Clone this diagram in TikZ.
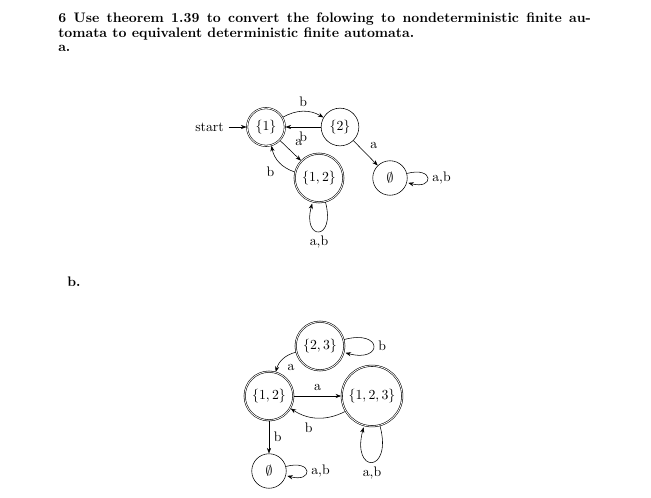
\documentclass[tikz,border=0pt]{standalone}
\usetikzlibrary{automata,arrows.meta}
\begin{document}
\begin{tikzpicture}[x=0.7246pt,y=-0.7246pt,
  >={Stealth[length=4pt,width=3pt]},
  auto,
  every state/.style={minimum size=2.5em},
  accepting/.style={accepting by double},
  titletext/.style={anchor=base west,inner sep=0pt,font=\bfseries},
  trans/.style={->}]
\useasboundingbox (0,0) rectangle (651,498);

% title
\node[titletext] (t1) at (58,22) {\hbox to 386pt{6 Use theorem 1.39 to convert the folowing to nondeterministic finite au-}};
\node[titletext] (t2) at (58,37) {tomata to equivalent deterministic finite automata.};
\node[titletext] (pa) at (58,51) {a.};
\node[titletext] (pb) at (67,286) {b.};

% part a
\node[state,accepting,initial,initial text=start] (A1) at (266,127) {$\{1\}$};
\node[state] (A2) at (340,127) {$\{2\}$};
\node[state,accepting] (A12) at (319,178) {$\{1,2\}$};
\node[state] (AE) at (390,178) {$\emptyset$};

\path[trans]
  (A1) edge[bend left] node {b} (A2)
  (A2) edge node {b} (A1)
  (A1) edge node {a} (A12)
  (A12) edge[bend left] node {b} (A1)
  (A12) edge[loop below] node {a,b} ()
  (A2) edge node {a} (AE)
  (AE) edge[loop right] node {a,b} ();

% part b
\node[state,accepting] (B23) at (320,346) {$\{2,3\}$};
\node[state,accepting] (B12) at (269,396) {$\{1,2\}$};
\node[state,accepting] (B123) at (372,396) {$\{1,2,3\}$};
\node[state] (BE) at (269,471) {$\emptyset$};

\path[trans]
  (B23) edge[loop right] node {b} ()
  (B23) edge[bend right] node {a} (B12)
  (B12) edge node {a} (B123)
  (B123) edge[bend left] node {b} (B12)
  (B12) edge node {b} (BE)
  (BE) edge[loop right] node {a,b} ()
  (B123) edge[loop below] node {a,b} ();
\end{tikzpicture}
\end{document}
